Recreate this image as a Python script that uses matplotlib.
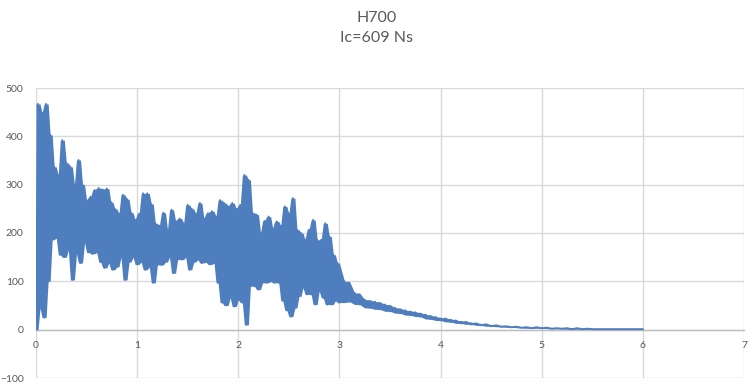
import numpy as np
import pandas as pd
import matplotlib
matplotlib.use('Agg')
import matplotlib.pyplot as plt

# thrust (N) sampled every 0.02 s during the burn, 0 - 3.0 s
burn_step = 0.02
thrust_burn = [
    0, 467, 45, 448, 25, 467, 100, 403, 186, 337,
    190, 320, 155, 392, 150, 345, 165, 337, 103, 300,
    157, 351, 138, 300, 180, 268, 160, 275, 157, 289,
    160, 293, 140, 290, 128, 292, 138, 264, 124, 250,
    130, 240, 150, 279, 103, 270, 140, 242, 150, 227,
    135, 240, 140, 282, 124, 282, 130, 260, 97, 220,
    134, 215, 134, 242, 140, 207, 150, 248, 117, 225,
    145, 230, 145, 220, 150, 258, 124, 250, 140, 240,
    145, 262, 138, 230, 140, 241, 135, 245, 138, 234,
    97, 268, 56, 262, 50, 255, 66, 262, 48, 250,
    62, 258, 56, 320, 10, 310, 90, 242, 90, 238,
    83, 200, 97, 225, 97, 234, 100, 210, 97, 224,
    97, 215, 60, 255, 40, 240, 27, 272, 45, 207,
    69, 200, 87, 186, 73, 207, 73, 227, 52, 186,
    80, 186, 66, 220, 52, 193, 52, 155, 60, 138,
    56,
]

# tail-off, sampled every 0.05 s from 3.05 s to 6.0 s
tail_start = 3.05
tail_step = 0.05
thrust_tail = [
    100, 58, 76, 52, 62, 45, 58, 42, 52, 38,
    45, 34, 40, 30, 36, 27, 31, 22, 26, 19,
    23, 16, 19, 13, 16, 11, 13, 9, 11, 7,
    9, 6, 7, 5, 6, 4, 5, 3, 5, 3,
    4, 2, 3, 2, 3, 1, 3, 1, 2, 1,
    1, 1, 1, 1, 1, 1, 1, 1, 1, 1,
]

titulo = ['H700', 'Ic=609 Ns']
xticks = [0, 1, 2, 3, 4, 5, 6, 7]
yticks = [-100, 0, 100, 200, 300, 400, 500]

t = np.concatenate([np.arange(len(thrust_burn)) * burn_step,
                    tail_start + np.arange(len(thrust_tail)) * tail_step])
f = pd.Series(thrust_burn + thrust_tail, dtype=float)

# the real signal is sampled far denser than the picture, so the trace
# shows as a solid band: fill between the local min and max of the samples
alto = f.rolling(3, center=True, min_periods=1).max()
bajo = f.rolling(3, center=True, min_periods=1).min()

color = '#4E7EBD'
plt.rcParams['font.family'] = ['Lato', 'DejaVu Sans']

fig = plt.figure(figsize=(7.54, 3.92), dpi=100)
ax = fig.add_axes([36 / 754, 14 / 392, 708 / 754, 290 / 392])

ax.fill_between(t, bajo, alto, color=color, linewidth=0, zorder=3)
ax.plot(t, f, color=color, linewidth=1.4, zorder=3)

ax.set_xlim(0, 7)
ax.set_ylim(-100, 500)
ax.set_xticks(xticks)
ax.set_yticks(yticks)
ax.grid(True, color='#D9D9D9', linewidth=1.0, zorder=0)
ax.set_axisbelow(True)

for s in ['top', 'right', 'left']:
    ax.spines[s].set_visible(False)
ax.spines['bottom'].set_position(('data', 0))
ax.spines['bottom'].set_color('#BFBFBF')
ax.spines['bottom'].set_linewidth(1.0)
ax.spines['bottom'].set_zorder(2)

ax.tick_params(axis='both', length=0, labelsize=7.5, labelcolor='#595959')
ax.tick_params(axis='x', pad=8)
ax.tick_params(axis='y', pad=9)

fig.text(0.5, 1 - 17.5 / 392, titulo[0], ha='center', va='center',
         fontsize=11.5, color='#595959')
fig.text(0.5, 1 - 38.5 / 392, titulo[1], ha='center', va='center',
         fontsize=11.5, color='#595959')

fig.savefig('out.png', dpi=100)
